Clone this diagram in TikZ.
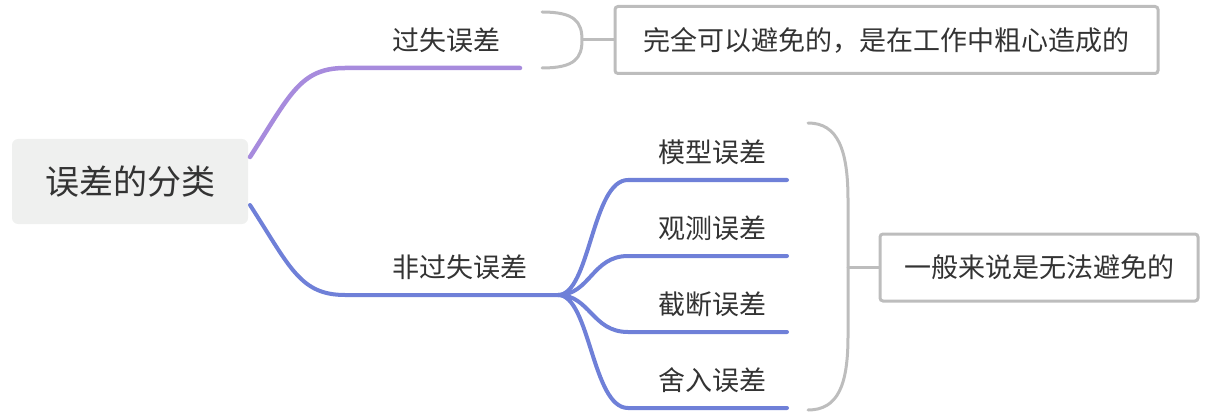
\documentclass[tikz,border=0pt]{standalone}
\usepackage{fontspec}
\setmainfont{Noto Sans CJK SC}
\definecolor{inktext}{HTML}{333333}
\definecolor{rootfill}{HTML}{EFF0EF}
\definecolor{branchpurple}{HTML}{A78BDD}
\definecolor{branchblue}{HTML}{6F80D8}
\definecolor{notegray}{HTML}{BDBDBD}
\begin{document}
\begin{tikzpicture}[x=1pt, y=-1pt, font=\fontsize{27}{32}\selectfont, text=inktext]
        \tikzset{
            rootbox/.style={
                fill=rootfill,
                rounded corners=6pt,
                minimum width=236pt,
                minimum height=85pt,
                font=\fontsize{34}{40}\selectfont
            },
            topic/.style={inner sep=2pt},
            purplebranch/.style={draw=branchpurple, line width=4.5pt, line cap=round},
            bluebranch/.style={draw=branchblue, line width=4pt, line cap=round},
            bracketline/.style={draw=notegray, line width=3pt, line cap=round},
            notebox/.style={
                draw=notegray,
                line width=3pt,
                fill=white,
                rounded corners=3pt,
                inner sep=0pt,
                minimum height=67pt
            }
        }

        \useasboundingbox (0,0) rectangle (1214,414);

        \node[rootbox] (root) at (130,181.5) {误差的分类};

        \coordinate (gs-out) at (250,157);
        \coordinate (gs-a) at (345,68);
        \coordinate (gs-b) at (520,68);
        \coordinate (ngs-out) at (250,205);
        \coordinate (ngs-a) at (345,295);
        \coordinate (ngs-b) at (558,295);

        \node[topic] (gs) at (446,40) {过失误差};
        \node[topic] (ngs) at (460,267) {非过失误差};

        \draw[purplebranch] (gs-out) .. controls (290,95) and (300,68) .. (gs-a) -- (gs-b);
        \draw[bluebranch] (ngs-out) .. controls (290,267) and (300,295) .. (ngs-a) -- (ngs-b);

        \node[topic] (mx) at (712,152) {模型误差};
        \node[topic] (gc) at (712,228) {观测误差};
        \node[topic] (jd) at (712,304) {截断误差};
        \node[topic] (sr) at (712,380) {舍入误差};

        \foreach \yy in {180,256,332,408} {
            \draw[bluebranch] (ngs-b) .. controls (590,295) and (592,\yy) .. (628,\yy) -- (787,\yy);
        }

        \node[notebox, minimum width=543pt] (note1) at (886.5,40) {完全可以避免的，是在工作中粗心造成的};
        \node[notebox, minimum width=318pt] (note2) at (1039,267.5) {一般来说是无法避免的};

        \coordinate (br1) at (582,40);
        \draw[bracketline] (542,12) .. controls (575,12) and (582,22) .. (br1)
            .. controls (582,58) and (575,68) .. (542,68);
        \draw[bracketline] (br1) -- (note1.west);

        \coordinate (br2) at (848,267.5);
        \draw[bracketline] (808,123) .. controls (838,123) and (848,150) .. (848,200)
            -- (848,336) .. controls (848,385) and (838,410) .. (808,410);
        \draw[bracketline] (br2) -- (note2.west);
    \end{tikzpicture}
\end{document}
